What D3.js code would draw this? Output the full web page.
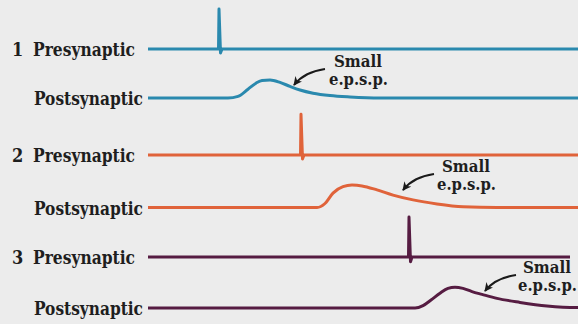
<!DOCTYPE html>
<html>
<head>
<meta charset="utf-8">
<script src="https://cdn.jsdelivr.net/npm/d3@7"></script>
<style>
  html, body { margin: 0; padding: 0; background: #ececec; }
  svg { display: block; }
  text { font-family: "DejaVu Serif Condensed", "DejaVu Serif", serif; font-weight: bold; fill: #1e1e1e; }
</style>
</head>
<body>
<svg id="chart" width="578" height="324"></svg>
<script>
// ---------- DATA (time in ms, membrane deflection in mV-like units) ----------
const pairLabels = ["1", "2", "3"];
const traceNames = ["Presynaptic", "Postsynaptic"];
const annotationLines = ["Small", "e.p.s.p."];

// Presynaptic spikes: [time, value]
const pre1 = [[0,0],[7.05,0],[7.1,100],[7.25,-10],[7.4,0],[43,0]];
const pre2 = [[0,0],[15.25,0],[15.3,102],[15.45,-10],[15.6,0],[43,0]];
const pre3 = [[0,0],[26.05,0],[26.1,100],[26.25,-12],[26.4,0],[42.2,0]];

// Postsynaptic potentials: [time, value]
const post1 = [[0,0],[8.0,0],[9.0,4],[10.0,22],[10.8,37],[11.4,44],[12.2,45],[13.2,39],[14.2,29],[15.2,20],[16.5,12],[18.2,6],[20.2,2.5],[23.2,0],[43,0]];
const post2 = [[0,0],[16.9,0],[17.7,10],[18.5,36],[19.5,52],[20.4,56],[21.4,54],[22.9,44],[24.5,31],[26.5,19],[28.9,9],[31.5,2],[34.9,0],[43,0]];
const post3 = [[0,0],[26.7,0],[27.5,6],[28.3,20],[29.2,37],[30.0,49],[30.7,52],[31.5,49],[32.4,41],[33.4,34],[34.9,24],[37.2,14],[39.9,5],[42.9,1],[43,1]];

// Annotation arrow tips: [time, value] on the postsynaptic traces
const annotationTips = [[14.5,30],[25.4,41],[33.6,40]];

// ---------- LAYOUT ----------
const colors = ["#2a89ae", "#e0633a", "#561c42"];
const preBaselines = [49, 155, 257];
const postBaselines = [98, 207.5, 308];
const labelOffsetX = [65, 64, 63];

const svg = d3.select("#chart");
const x = d3.scaleLinear().domain([0, 43]).range([148, 578]);
const amp = d3.scaleLinear().domain([0, 100]).range([0, -40]);

const preData = [pre1, pre2, pre3];
const postData = [post1, post2, post3];

svg.append("defs").append("marker")
  .attr("id", "arrowhead")
  .attr("viewBox", "0 0 10 10")
  .attr("refX", 9).attr("refY", 5)
  .attr("markerWidth", 4.4).attr("markerHeight", 4.4)
  .attr("orient", "auto-start-reverse")
  .append("path")
  .attr("d", "M0,0 L10,5 L0,10 L3,5 Z")
  .attr("fill", "#1a1a1a");

pairLabels.forEach((lab, i) => {
  const g = svg.append("g");
  const yPre = preBaselines[i], yPost = postBaselines[i];

  const linePre = d3.line()
    .x(d => x(d[0]))
    .y(d => yPre + amp(d[1]))
    .curve(d3.curveLinear);
  const linePost = d3.line()
    .x(d => x(d[0]))
    .y(d => yPost + amp(d[1]))
    .curve(d3.curveMonotoneX);

  g.append("path")
    .attr("d", linePre(preData[i]))
    .attr("fill", "none")
    .attr("stroke", colors[i])
    .attr("stroke-width", 3)
    .attr("stroke-linejoin", "round");

  g.append("path")
    .attr("d", linePost(postData[i]))
    .attr("fill", "none")
    .attr("stroke", colors[i])
    .attr("stroke-width", 3)
    .attr("stroke-linejoin", "round");

  // labels
  g.append("text")
    .attr("x", 12).attr("y", yPre + 6.5)
    .attr("font-size", 18)
    .text(lab);
  g.append("text")
    .attr("x", 33).attr("y", yPre + 6.5)
    .attr("font-size", 18)
    .attr("textLength", 102).attr("lengthAdjust", "spacingAndGlyphs")
    .text(traceNames[0]);
  g.append("text")
    .attr("x", 34).attr("y", yPost + 7)
    .attr("font-size", 18)
    .attr("textLength", 109).attr("lengthAdjust", "spacingAndGlyphs")
    .text(traceNames[1]);

  // annotation
  const tip = annotationTips[i];
  const tx = x(tip[0]), ty = yPost + amp(tip[1]);
  g.append("path")
    .attr("d", `M${tx + 32},${ty - 17} C${tx + 18},${ty - 15} ${tx + 8},${ty - 10} ${tx + 1},${ty - 1}`)
    .attr("fill", "none")
    .attr("stroke", "#1a1a1a")
    .attr("stroke-width", 2)
    .attr("marker-end", "url(#arrowhead)");

  g.append("text")
    .attr("x", tx + labelOffsetX[i] - 24).attr("y", ty - 19)
    .attr("font-size", 16)
    .attr("textLength", 48).attr("lengthAdjust", "spacingAndGlyphs")
    .text(annotationLines[0]);
  g.append("text")
    .attr("x", tx + labelOffsetX[i] - 29).attr("y", ty - 1)
    .attr("font-size", 16)
    .attr("textLength", 59).attr("lengthAdjust", "spacingAndGlyphs")
    .text(annotationLines[1]);
});
</script>
</body>
</html>
